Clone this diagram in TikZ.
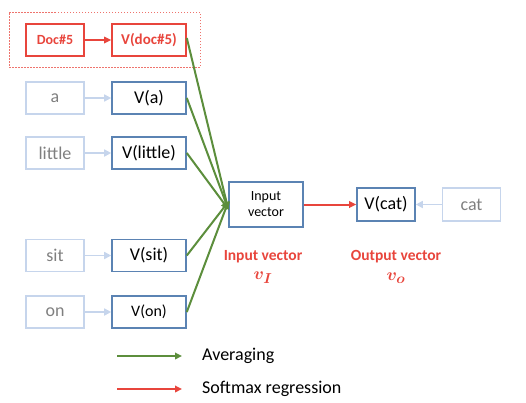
\documentclass[tikz,border=0pt]{standalone}
\usepackage{amsmath}
\usepackage{bm}
\usepackage{fontspec}
\setmainfont{Carlito}
\usetikzlibrary{arrows.meta}
\definecolor{bluebox}{HTML}{5B83B3}
\definecolor{lightbox}{HTML}{C6D5EC}
\definecolor{graytxt}{HTML}{7F7F7F}
\definecolor{redc}{HTML}{E8453C}
\definecolor{greenc}{HTML}{5C8E3C}
\begin{document}
\begin{tikzpicture}[x=1pt,y=-1pt,
  wordbox/.style={draw=lightbox,line width=1.6pt,minimum width=58pt,minimum height=32pt,inner sep=0pt,text=graytxt,font=\fontsize{18}{20}\selectfont},
  vecbox/.style={draw=bluebox,line width=1.6pt,minimum width=74pt,minimum height=32pt,inner sep=0pt,text=black,font=\fontsize{18}{20}\selectfont},
  redbox/.style={draw=redc,line width=1.6pt,minimum height=32pt,inner sep=0pt,text=redc,font=\bfseries\fontsize{15}{18}\selectfont},
  lightarrow/.style={draw=lightbox,line width=1.6pt,-{Triangle[length=7pt,width=7pt]}},
  greenarrow/.style={draw=greenc,line width=2pt,-{Triangle[length=7pt,width=6.5pt]}},
  redarrow/.style={draw=redc,line width=2pt,-{Triangle[length=7pt,width=6.5pt]}},
  redlabel/.style={text=redc,font=\bfseries\fontsize{15.5}{18}\selectfont,inner sep=0pt}
]
\useasboundingbox (0,0) rectangle (526,402);
% dashed group
\node[draw=redc!75,dash pattern=on 1.5pt off 1.5pt,line width=1pt,minimum width=191pt,minimum height=55pt,inner sep=0pt] (grp) at (104.5,39.5) {};
\node[redbox,minimum width=58pt,font=\bfseries\fontsize{14}{16}\selectfont] (doc) at (55,40) {Doc\#5};
\node[redbox,minimum width=74pt] (vdoc) at (149,40) {V(doc\#5)};
\draw[redarrow,line width=1.6pt] (doc) -- (vdoc);
% words
\node[wordbox] (a) at (55,98) {a};
\node[vecbox] (va) at (149,98) {V(a)};
\node[wordbox] (little) at (55,153) {little};
\node[vecbox] (vlittle) at (149,153) {V(little)};
\node[wordbox] (sit) at (55,255.5) {sit};
\node[vecbox] (vsit) at (149,255.5) {V(sit)};
\node[wordbox] (on) at (55,312) {on};
\node[vecbox,font=\fontsize{16}{18}\selectfont] (von) at (149,312) {V(on)};
\foreach \w/\v in {a/va,little/vlittle,sit/vsit,on/von}
  \draw[lightarrow] (\w) -- (\v);
% input vector
\node[draw=bluebox,line width=1.6pt,minimum width=74pt,minimum height=45pt,inner sep=0pt,align=center,font=\fontsize{14}{16}\selectfont] (inp) at (266,204.5) {Input\\vector};
\coordinate (c1) at ([yshift=-4.5pt]inp.west);
\coordinate (c2) at ([yshift=2.5pt]inp.west);
\draw[greenarrow] ([yshift=2pt]vdoc.east) -- (c1);
\draw[greenarrow] (va.east) -- (c1);
\draw[greenarrow] (vlittle.east) -- (c1);
\draw[greenarrow] (vsit.east) -- (c2);
\draw[greenarrow] (von.east) -- (c2);
% output
\node[vecbox,minimum width=58pt,minimum height=33pt] (vcat) at (386,204.5) {V(cat)};
\node[wordbox,minimum height=33pt] (cat) at (471.5,204.5) {cat};
\draw[redarrow] (inp) -- (vcat);
\draw[lightarrow] (cat) -- (vcat);
% labels
\node[redlabel] (lin) at (263,257) {Input vector};
\node[redlabel,font=\fontsize{19}{20}\selectfont] (lvi) at (263,278) {$\bm{v_I}$};
\node[redlabel] (lout) at (396,257) {Output vector};
\node[redlabel,font=\fontsize{19}{20}\selectfont] (lvo) at (396,278) {$\bm{v_o}$};
% legend
\coordinate (g1) at (117,356);
\coordinate (g2) at (182,356);
\coordinate (r1) at (117,389);
\coordinate (r2) at (182,389);
\draw[greenarrow] (g1) -- (g2);
\draw[redarrow] (r1) -- (r2);
\node[anchor=west,inner sep=0pt,font=\fontsize{18}{20}\selectfont] (lavg) at (202,356) {Averaging};
\node[anchor=west,inner sep=0pt,font=\fontsize{18}{20}\selectfont] (lsoft) at (202,389) {Softmax regression};
\end{tikzpicture}
\end{document}
